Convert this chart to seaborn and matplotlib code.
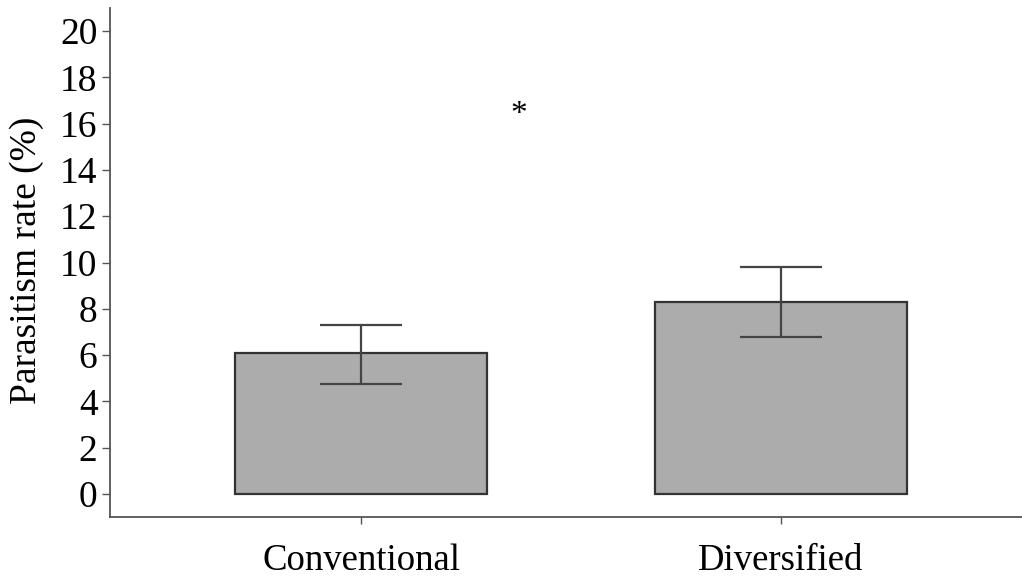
import numpy as np
import pandas as pd
import matplotlib
matplotlib.use("Agg")
import matplotlib.pyplot as plt
import seaborn as sns

# values
systems = ["Conventional", "Diversified"]
rate_mean = [6.08, 8.29]
rate_low = [4.76, 6.78]
rate_high = [7.30, 9.80]

sns.set_style("ticks")
plt.rcParams["font.family"] = ["Liberation Serif", "DejaVu Serif"]
plt.rcParams["text.color"] = "black"
plt.rcParams["axes.labelcolor"] = "black"
plt.rcParams["xtick.labelcolor"] = "black"
plt.rcParams["ytick.labelcolor"] = "black"

df = pd.DataFrame({"System": systems, "Rate": rate_mean})

fig = plt.figure(figsize=(10.22, 5.78), dpi=100)
ax = fig.add_axes([110 / 1022, 1 - 517 / 578, 1 - 110 / 1022, (517 - 8) / 578])

sns.barplot(data=df, x="System", y="Rate", color="#acacac", width=0.6,
            edgecolor="#333333", linewidth=1.6, saturation=1, errorbar=None, ax=ax)

lo = np.array(rate_mean) - np.array(rate_low)
hi = np.array(rate_high) - np.array(rate_mean)
ax.errorbar(range(len(systems)), rate_mean, yerr=[lo, hi], fmt="none",
            ecolor="#444444", elinewidth=1.6, capsize=29.5, capthick=1.6)

ax.text(0.376, 16.4, "*", ha="center", va="center", fontsize=24)

ax.set_xlim(-0.598, 1.574)
ax.set_ylim(-1, 21)
ax.set_yticks(range(0, 21, 2))
ax.set_xlabel("")
ax.set_ylabel("Parasitism rate (%)", fontsize=27)
ax.yaxis.set_label_coords(-0.072, 0.505)
ax.tick_params(axis="y", labelsize=27, length=6, width=1, color="#555555", pad=3)
ax.tick_params(axis="x", labelsize=26.5, length=5, width=1, color="#555555", pad=14)
for s in ["top", "right"]:
    ax.spines[s].set_visible(False)
for s in ["left", "bottom"]:
    ax.spines[s].set_color("#555555")
    ax.spines[s].set_linewidth(1.3)

fig.savefig("out.png", dpi=100)
